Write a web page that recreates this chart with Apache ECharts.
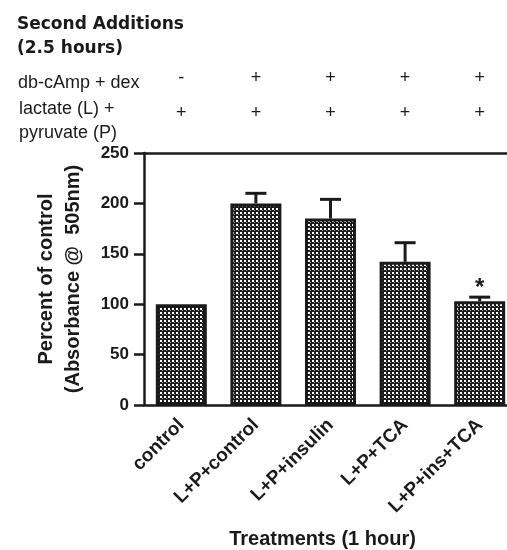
<!DOCTYPE html>
<html>
<head>
<meta charset="utf-8">
<script src="https://cdn.jsdelivr.net/npm/echarts@6/dist/echarts.min.js"></script>
<style>
html,body{margin:0;padding:0;background:#fff;}
#chart{width:507px;height:550px;}
</style>
</head>
<body>
<div id="chart"></div>
<script>
// ---- data ----
var categories = ['control', 'L+P+control', 'L+P+insulin', 'L+P+TCA', 'L+P+ins+TCA'];
var percentOfControl = [100, 200, 185, 142, 103];
var semUpper = [0, 10, 19, 19, 4];
var significance = ['', '', '', '', '*'];
var dbcAmpDex = ['-', '+', '+', '+', '+'];
var lactatePyruvate = ['+', '+', '+', '+', '+'];
var yTicks = [0, 50, 100, 150, 200, 250];

// ---- pattern fill ----
function makePattern() {
  var c = document.createElement('canvas');
  c.width = 4; c.height = 4;
  var g = c.getContext('2d');
  g.fillStyle = '#1c1c1c';
  g.fillRect(0, 0, 4, 4);
  g.fillStyle = '#ffffff';
  g.fillRect(0, 0, 2, 2);
  g.fillStyle = '#9a9a9a';
  g.fillRect(2, 2, 1, 1);
  return c;
}
var pattern = makePattern();

var ink = '#1a1a1a';
var chart = echarts.init(document.getElementById('chart'), null, {renderer: 'canvas'});

var errData = percentOfControl.map(function (v, i) {
  return [i, v, v + semUpper[i], significance[i]];
});

var option = {
  animation: false,
  backgroundColor: '#ffffff',
  title: [
    {
      text: 'Second Additions\n(2.5 hours)',
      left: 12, top: 8,
      textStyle: {fontFamily: 'DejaVu Sans', fontWeight: 'bold', fontSize: 17, lineHeight: 24, color: ink}
    },
    {
      text: 'db-cAmp + dex',
      left: 13, top: 68,
      textStyle: {fontFamily: 'Liberation Sans', fontWeight: 'normal', fontSize: 18, lineHeight: 20, color: ink}
    },
    {
      text: 'lactate (L) +\npyruvate (P)',
      left: 14, top: 92,
      textStyle: {fontFamily: 'Liberation Sans', fontWeight: 'normal', fontSize: 18, lineHeight: 24, color: ink}
    }
  ],
  grid: {left: 144, right: -10, top: 153, bottom: 145, containLabel: false, outerBoundsMode: 'none'},
  xAxis: [
    {
      type: 'category',
      data: categories,
      position: 'bottom',
      axisLine: {lineStyle: {color: ink, width: 2.5}},
      axisTick: {alignWithLabel: true, length: 8, lineStyle: {color: ink, width: 2.5}},
      axisLabel: {
        rotate: 45, margin: 17, interval: 0,
        fontFamily: 'Liberation Sans', fontWeight: 'bold', fontSize: 19, color: ink
      },
      name: 'Treatments (1 hour)',
      nameLocation: 'middle',
      nameGap: 124,
      nameTextStyle: {fontFamily: 'Liberation Sans', fontWeight: 'bold', fontSize: 20, color: ink, padding: [0, 16, 0, 0]}
    },
    {
      type: 'category',
      data: categories,
      position: 'top',
      offset: 0,
      axisLine: {show: true, lineStyle: {color: ink, width: 2.5}},
      axisTick: {show: false},
      axisLabel: {show: false}
    },
    {
      type: 'category',
      data: dbcAmpDex,
      position: 'top',
      offset: 75,
      axisLine: {show: false},
      axisTick: {show: false},
      axisLabel: {show: true, margin: 0, verticalAlign: 'middle', fontFamily: 'Liberation Sans', fontSize: 18, color: ink}
    },
    {
      type: 'category',
      data: lactatePyruvate,
      position: 'top',
      offset: 40,
      axisLine: {show: false},
      axisTick: {show: false},
      axisLabel: {show: true, margin: 0, verticalAlign: 'middle', fontFamily: 'Liberation Sans', fontSize: 18, color: ink}
    }
  ],
  yAxis: {
    type: 'value',
    min: yTicks[0], max: yTicks[yTicks.length - 1], interval: 50,
    axisLine: {show: true, lineStyle: {color: ink, width: 2.5}},
    axisTick: {show: true, length: 10, lineStyle: {color: ink, width: 2.5}},
    splitLine: {show: false},
    axisLabel: {margin: 15, fontFamily: 'Liberation Sans', fontWeight: 'bold', fontSize: 17, color: ink},
    name: 'Percent of control\n(Absorbance @  505nm)',
    nameLocation: 'middle',
    nameGap: 57,
    nameTextStyle: {fontFamily: 'Liberation Sans', fontWeight: 'bold', fontSize: 20, lineHeight: 27, color: ink}
  },
  series: [
    {
      type: 'bar',
      xAxisIndex: 0,
      data: percentOfControl,
      barWidth: 51,
      itemStyle: {
        color: {image: pattern, repeat: 'repeat'},
        borderColor: ink,
        borderWidth: 3
      },
      z: 2
    },
    {
      type: 'custom',
      xAxisIndex: 0,
      data: errData,
      z: 3,
      renderItem: function (params, api) {
        var i = api.value(0);
        var base = api.coord([i, api.value(1)]);
        var top = api.coord([i, api.value(2)]);
        var children = [];
        if (api.value(2) > api.value(1)) {
          children.push({
            type: 'line',
            shape: {x1: base[0], y1: base[1], x2: top[0], y2: top[1]},
            style: {stroke: ink, lineWidth: 3}
          });
          children.push({
            type: 'line',
            shape: {x1: top[0] - 10.5, y1: top[1], x2: top[0] + 10.5, y2: top[1]},
            style: {stroke: ink, lineWidth: 3}
          });
        }
        var sig = errData[params.dataIndex][3];
        if (sig) {
          children.push({
            type: 'text',
            style: {
              text: sig, x: top[0], y: top[1] + 3,
              align: 'center', verticalAlign: 'bottom',
              fontFamily: 'Liberation Sans', fontWeight: 'bold', fontSize: 24, fill: ink
            }
          });
        }
        return {type: 'group', children: children};
      }
    }
  ]
};
chart.setOption(option);
</script>
</body>
</html>
